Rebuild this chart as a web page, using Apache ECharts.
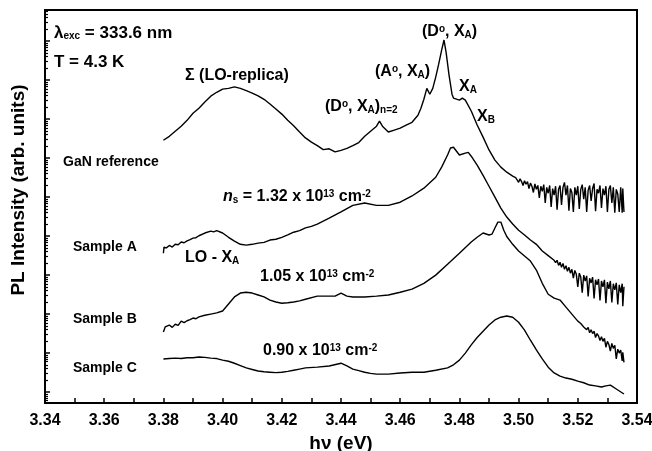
<!DOCTYPE html>
<html lang="en">
<head>
	<meta charset="UTF-8">
	<title>PL spectra</title>
	<script src="https://cdn.jsdelivr.net/npm/echarts@6/dist/echarts.min.js"></script>
	<style>
		html,body{margin:0;padding:0;background:#fff;}
	</style>
</head>
<body>
	<div id="chart" style="width:652px; height:451px;"></div>
<script>
	// photon energy (eV) vs log10 of PL intensity (arb. units)
	var ganRef=[
		[3.3800,6.46],[3.382,6.56],[3.384,6.69],[3.386,6.82],[3.388,6.97],[3.390,7.15],[3.392,7.28],
		[3.394,7.44],[3.396,7.59],[3.398,7.69],[3.400,7.77],[3.402,7.79],[3.404,7.83],[3.406,7.79],
		[3.408,7.73],[3.410,7.67],[3.412,7.60],[3.414,7.51],[3.416,7.39],[3.418,7.26],[3.420,7.13],
		[3.422,6.97],[3.424,6.83],[3.426,6.67],[3.428,6.52],[3.430,6.41],[3.432,6.32],[3.434,6.22],
		[3.436,6.24],[3.438,6.16],[3.440,6.20],[3.442,6.25],[3.444,6.32],[3.446,6.40],[3.448,6.56],
		[3.450,6.69],[3.452,6.82],[3.453,6.95],[3.454,6.82],[3.456,6.67],[3.458,6.72],[3.460,6.77],
		[3.462,6.85],[3.464,6.92],[3.466,7.10],[3.467,7.28],[3.468,7.51],[3.469,7.79],[3.4695,7.82],
		[3.470,7.64],[3.4705,7.59],[3.471,7.79],[3.472,8.08],[3.473,8.41],[3.474,8.77],[3.4748,9.03],
		[3.4755,8.72],[3.4765,8.13],[3.4775,7.64],[3.478,7.54],[3.480,7.49],[3.481,7.54],[3.482,7.49],
		[3.484,7.21],[3.486,6.85],[3.488,6.54],[3.490,6.21],[3.492,5.95],[3.494,5.77],[3.496,5.64],
		[3.498,5.54],[3.499,5.50],[3.4995,5.44],[3.500,5.38],[3.5005,5.47],[3.501,5.40],[3.5015,5.30],
		[3.502,5.42],[3.5025,5.33],[3.503,5.40],[3.5035,5.22],[3.504,5.36],[3.5045,5.28],[3.505,5.12],
		[3.5055,5.34],[3.506,5.20],[3.5065,5.30],[3.507,4.98],[3.5075,5.28],[3.508,5.15],[3.5085,5.32],
		[3.509,4.85],[3.5095,5.25],[3.510,5.10],[3.5105,5.30],[3.511,4.75],[3.5115,5.22],[3.512,5.05],
		[3.5125,5.28],[3.513,4.68],[3.5135,5.20],[3.514,5.30],[3.5145,4.80],[3.515,5.25],[3.5155,5.38],
		[3.516,5.05],[3.5165,5.30],[3.517,4.65],[3.5175,5.22],[3.518,5.12],[3.5185,4.62],[3.519,5.25],
		[3.5195,5.05],[3.520,5.28],[3.5205,4.70],[3.521,5.20],[3.5215,5.32],[3.522,4.95],[3.5225,5.25],
		[3.523,4.62],[3.5235,5.18],[3.524,5.30],[3.5245,4.90],[3.525,5.22],[3.5255,5.35],[3.526,4.64],
		[3.5265,5.20],[3.527,5.10],[3.5275,5.30],[3.528,4.72],[3.5285,5.22],[3.529,5.05],[3.5295,5.28],
		[3.530,4.62],[3.5305,5.20],[3.531,5.30],[3.5315,4.85],[3.532,5.25],[3.5325,4.60],[3.533,5.20],
		[3.5335,5.08],[3.534,4.62],[3.5345,5.25],[3.535,4.60],[3.5352,5.22],[3.5356,4.62]
	];
	var sampleA=[
		[3.3800,3.56],[3.3802,3.72],[3.381,3.70],[3.382,3.76],[3.383,3.72],[3.384,3.79],[3.385,3.78],
		[3.386,3.85],[3.387,3.83],[3.388,3.88],[3.389,3.91],[3.390,3.95],[3.391,3.96],[3.392,4.01],
		[3.394,4.08],[3.396,4.13],[3.397,4.11],[3.398,4.14],[3.400,4.08],[3.402,3.97],[3.404,3.87],
		[3.406,3.79],[3.408,3.77],[3.410,3.79],[3.412,3.82],[3.414,3.84],[3.416,3.90],[3.418,3.92],
		[3.420,3.97],[3.422,4.03],[3.424,4.10],[3.426,4.14],[3.428,4.21],[3.430,4.25],[3.432,4.31],
		[3.436,4.46],[3.440,4.62],[3.444,4.79],[3.448,4.85],[3.452,4.79],[3.456,4.79],[3.460,4.87],
		[3.464,5.03],[3.468,5.23],[3.472,5.51],[3.474,5.77],[3.476,6.08],[3.477,6.26],[3.478,6.28],
		[3.480,6.08],[3.482,6.13],[3.483,6.15],[3.484,6.05],[3.486,5.82],[3.488,5.56],[3.490,5.28],
		[3.492,5.00],[3.494,4.72],[3.496,4.49],[3.498,4.31],[3.500,4.15],[3.502,4.03],[3.504,3.90],
		[3.506,3.79],[3.508,3.62],[3.510,3.50],[3.512,3.38],[3.5125,3.32],[3.513,3.38],[3.5135,3.25],
		[3.514,3.33],[3.5145,3.20],[3.515,3.30],[3.5155,3.15],[3.516,3.24],[3.5165,3.10],[3.517,3.20],
		[3.5175,3.05],[3.518,3.15],[3.5185,2.92],[3.519,3.12],[3.5195,3.02],[3.520,2.70],[3.5205,3.05],
		[3.521,2.95],[3.5215,2.55],[3.522,3.00],[3.5225,2.85],[3.523,2.98],[3.5235,2.45],[3.524,2.92],
		[3.5245,2.80],[3.525,2.95],[3.5255,2.40],[3.526,2.88],[3.5265,2.75],[3.527,2.90],[3.5275,2.35],
		[3.528,2.85],[3.5285,2.70],[3.529,2.88],[3.5295,2.28],[3.530,2.82],[3.5305,2.65],[3.531,2.85],
		[3.5315,2.30],[3.532,2.78],[3.5325,2.62],[3.533,2.80],[3.5335,2.25],[3.534,2.75],[3.5345,2.55],
		[3.535,2.78],[3.5352,2.20],[3.5356,2.70]
	];
	var sampleB=[
		[3.3800,1.54],[3.3806,1.67],[3.381,1.62],[3.382,1.72],[3.383,1.66],[3.384,1.74],[3.385,1.71],
		[3.386,1.82],[3.387,1.78],[3.388,1.83],[3.389,1.86],[3.390,1.90],[3.391,1.88],[3.392,1.93],
		[3.394,1.97],[3.396,2.00],[3.398,2.03],[3.400,2.08],[3.402,2.26],[3.404,2.44],[3.406,2.54],
		[3.408,2.56],[3.410,2.54],[3.412,2.49],[3.414,2.44],[3.416,2.36],[3.418,2.31],[3.420,2.28],
		[3.422,2.29],[3.424,2.31],[3.426,2.34],[3.428,2.38],[3.432,2.46],[3.436,2.46],[3.438,2.46],
		[3.440,2.54],[3.442,2.46],[3.444,2.44],[3.448,2.44],[3.452,2.46],[3.456,2.49],[3.460,2.56],
		[3.464,2.64],[3.468,2.79],[3.472,3.00],[3.476,3.28],[3.480,3.56],[3.484,3.85],[3.486,3.97],
		[3.488,4.08],[3.490,4.03],[3.491,4.05],[3.492,4.21],[3.493,4.36],[3.4935,4.41],[3.494,4.36],
		[3.495,4.15],[3.496,3.99],[3.498,3.79],[3.500,3.62],[3.502,3.49],[3.504,3.36],[3.506,3.13],
		[3.508,2.79],[3.510,2.51],[3.512,2.41],[3.514,2.36],[3.516,2.18],[3.518,2.00],[3.520,1.82],
		[3.521,1.76],[3.522,1.67],[3.5225,1.72],[3.523,1.60],[3.5235,1.66],[3.524,1.52],[3.5245,1.60],
		[3.525,1.50],[3.5255,1.56],[3.526,1.40],[3.5265,1.50],[3.527,1.44],[3.5275,1.32],[3.528,1.42],
		[3.5285,1.30],[3.529,1.38],[3.5295,1.15],[3.530,1.30],[3.5305,1.22],[3.531,1.05],[3.5315,1.25],
		[3.532,1.12],[3.5325,1.20],[3.533,0.85],[3.5335,1.10],[3.534,1.00],[3.5345,1.08],[3.535,0.80],
		[3.5352,1.02],[3.5356,0.76]
	];
	var sampleC=[
		[3.380,0.85],[3.382,0.86],[3.384,0.87],[3.386,0.86],[3.388,0.88],[3.390,0.88],[3.392,0.90],
		[3.394,0.89],[3.396,0.87],[3.398,0.86],[3.400,0.82],[3.402,0.79],[3.404,0.74],[3.406,0.68],
		[3.408,0.62],[3.410,0.58],[3.412,0.54],[3.414,0.52],[3.416,0.51],[3.418,0.50],[3.420,0.51],
		[3.422,0.53],[3.424,0.56],[3.426,0.59],[3.428,0.62],[3.432,0.64],[3.436,0.67],[3.440,0.74],
		[3.442,0.67],[3.444,0.59],[3.446,0.55],[3.448,0.51],[3.450,0.48],[3.452,0.46],[3.456,0.46],
		[3.460,0.49],[3.464,0.51],[3.468,0.51],[3.472,0.56],[3.476,0.62],[3.478,0.70],[3.480,0.82],
		[3.482,1.00],[3.484,1.21],[3.486,1.40],[3.488,1.56],[3.490,1.72],[3.492,1.85],[3.494,1.92],
		[3.496,1.95],[3.498,1.92],[3.500,1.79],[3.502,1.59],[3.504,1.33],[3.506,1.08],[3.508,0.85],
		[3.510,0.64],[3.512,0.49],[3.514,0.41],[3.516,0.36],[3.518,0.33],[3.520,0.28],[3.522,0.24],
		[3.524,0.18],[3.526,0.16],[3.528,0.13],[3.5295,0.16],[3.531,0.18],[3.533,0.08],[3.5356,-0.05]
	];

	// axes
	var xMin=3.34, xMax=3.54, xStep=0.02;
	var yMin=-0.28, yMax=9.8;
	var yMajor=[0,1,2,3,4,5,6,7,8,9];
	var yMinor=(function(){
		var arr=[];
		for (var n = -1; n < 10; n++) {
			for (var k = 2; k < 10; k++) {
				var v=n+Math.log10(k);
				if(v>yMin && v<yMax) arr.push(v);
			};
		};
		return arr;
	})();

	var FONT='"Liberation Sans", Arial, sans-serif';

	function txt(x,y,text,size){
		var r={
			m:{fontSize:size,fontWeight:'bold',fontFamily:FONT,fill:'#000'},
			i:{fontSize:size,fontWeight:'bold',fontStyle:'italic',fontFamily:FONT,fill:'#000'},
			sub:{fontSize:Math.round(size*0.6),fontWeight:'bold',fontFamily:FONT,fill:'#000',verticalAlign:'bottom'},
			sup:{fontSize:Math.round(size*0.6),fontWeight:'bold',fontFamily:FONT,fill:'#000',verticalAlign:'top'}
		};
		return {
			type:'text', x:x, y:y, z:100,
			style:{
				text:text, rich:r, textVerticalAlign:'middle', textAlign:'left',
				fontSize:size, fontWeight:'bold', fontFamily:FONT, fill:'#000'
			}
		};
	}

	var option={
		animation:false,
		backgroundColor:'#fff',
		grid:{left:45,right:15,top:10,bottom:48,containLabel:false,outerBoundsMode:'none',
			show:true,borderColor:'#000',borderWidth:2,backgroundColor:'transparent'},
		xAxis:{
			type:'value', min:xMin, max:xMax, interval:xStep,
			axisLine:{onZero:false,lineStyle:{color:'#000',width:2}},
			axisTick:{inside:true,length:5,lineStyle:{color:'#000',width:1.5}},
			minorTick:{show:true,splitNumber:2,length:5,lineStyle:{color:'#000',width:1.5}},
			splitLine:{show:false},
			axisLabel:{color:'#000',fontSize:16,fontWeight:'bold',fontFamily:FONT,margin:10,
				formatter:function(v){return v.toFixed(2);}},
			name:'hν (eV)', nameLocation:'middle', nameGap:26,
			nameTextStyle:{color:'#000',fontSize:19,fontWeight:'bold',fontFamily:FONT}
		},
		yAxis:[{
			type:'value', min:yMin, max:yMax,
			axisLine:{show:true,onZero:false,lineStyle:{color:'#000',width:2}},
			axisTick:{show:true,inside:true,length:5,customValues:yMajor,lineStyle:{color:'#000',width:1.5}},
			axisLabel:{show:false},
			splitLine:{show:false}
		},{
			type:'value', min:yMin, max:yMax, position:'left',
			axisLine:{show:false,onZero:false},
			axisTick:{show:true,inside:true,length:3,customValues:yMinor,lineStyle:{color:'#000',width:1.2}},
			axisLabel:{show:false},
			splitLine:{show:false}
		}],
		graphic:[
			{type:'text', x:19, y:190, rotation:Math.PI/2, z:100,
				style:{text:'PL Intensity (arb. units)',textAlign:'center',textVerticalAlign:'middle',
					fontSize:19,fontWeight:'bold',fontFamily:FONT,fill:'#000'}},
			txt(54,33,'{m|λ}{sub|exc}{m| = 333.6 nm}',17),
			txt(54,62,'{m|T = 4.3 K}',17),
			txt(185,76,'{m|Σ (LO-replica)}',16),
			txt(63,162,'{m|GaN reference}',14),
			txt(223,197,'{i|n}{sub|s}{m| = 1.32 x 10}{sup|13}{m| cm}{sup|-2}',16),
			txt(73,247,'{m|Sample A}',14),
			txt(185,258,'{m|LO - X}{sub|A}',16),
			txt(260,277,'{m|1.05 x 10}{sup|13}{m| cm}{sup|-2}',16),
			txt(73,319,'{m|Sample B}',14),
			txt(263,351,'{m|0.90 x 10}{sup|13}{m| cm}{sup|-2}',16),
			txt(73,368,'{m|Sample C}',14),
			txt(325,107,'{m|(D}{sup|o}{m|, X}{sub|A}{m|)}{sub|n=2}',16),
			txt(375,72,'{m|(A}{sup|o}{m|, X}{sub|A}{m|)}',16),
			txt(422,32,'{m|(D}{sup|o}{m|, X}{sub|A}{m|)}',16),
			txt(459,87,'{m|X}{sub|A}',16),
			txt(477,117,'{m|X}{sub|B}',16)
		],
		series:[ganRef,sampleA,sampleB,sampleC].map(function(d){
			return {
				type:'line', data:d, showSymbol:false, symbol:'none', silent:true,
				lineStyle:{color:'#000',width:1.4}
			};
		})
	};

	var myChart=echarts.init(document.getElementById('chart'));
	myChart.setOption(option);
</script>
</body>
</html>
